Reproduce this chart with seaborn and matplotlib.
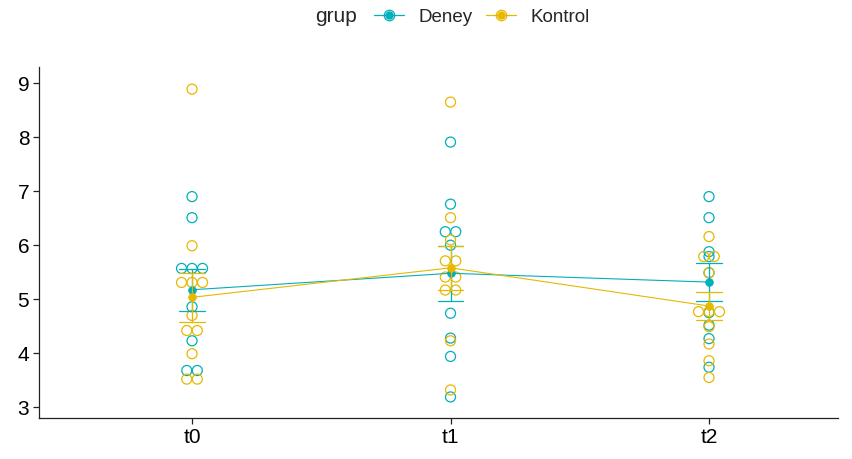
import numpy as np
import pandas as pd
import seaborn as sns
import matplotlib.pyplot as plt
from matplotlib.lines import Line2D
from matplotlib.legend_handler import HandlerTuple

# Measurement occasions and groups
times = ["t0", "t1", "t2"]
groups = ["Deney", "Kontrol"]
palette = {"Deney": "#00AFBB", "Kontrol": "#E7B800"}

# Individual scores per group and occasion
deney_t0 = [6.90, 6.51, 5.57, 5.57, 5.57, 4.86, 4.23, 3.68, 3.68]
deney_t1 = [7.91, 6.76, 6.25, 6.25, 6.00, 4.74, 4.28, 3.94, 3.19]
deney_t2 = [6.90, 6.51, 5.88, 5.79, 5.49, 4.75, 4.52, 4.27, 3.74]
kontrol_t0 = [8.89, 5.99, 5.31, 5.31, 5.31, 4.70, 4.42, 4.42, 3.99, 3.52, 3.52]
kontrol_t1 = [8.65, 6.51, 6.10, 5.71, 5.71, 5.41, 5.41, 5.17, 5.17, 4.23, 3.32]
kontrol_t2 = [6.16, 5.79, 5.79, 5.49, 4.77, 4.77, 4.77, 4.49, 4.17, 3.86, 3.55]

y_ticks = [3, 4, 5, 6, 7, 8, 9]

records = []
for grp, series in (("Deney", [deney_t0, deney_t1, deney_t2]),
                    ("Kontrol", [kontrol_t0, kontrol_t1, kontrol_t2])):
    for t, vals in zip(times, series):
        for v in vals:
            records.append((grp, t, v))
df = pd.DataFrame(records, columns=["grup", "time", "value"])

# Dot-plot style stacking: equal values within a group/occasion sit side by side, centred
dot_w = 0.0406
key = ["time", "grup", "value"]
df["k"] = df.groupby(key).cumcount()
df["n"] = df.groupby(key)["value"].transform("size")
df["xpos"] = (df["time"].map({t: i for i, t in enumerate(times)})
              + (df["k"] - (df["n"] - 1) / 2) * dot_w)

sns.set_style("white")
plt.rcParams["font.family"] = ["Liberation Sans", "DejaVu Sans"]

W, H = 852, 459
fig = plt.figure(figsize=(W / 100, H / 100), dpi=100)
ax = fig.add_axes([39 / W, 41 / H, (838 - 39) / W, (418 - 67) / H])

# Group means with standard-error bars, joined across occasions
sns.pointplot(data=df, x="time", y="value", hue="grup", order=times,
              hue_order=groups, palette=palette, errorbar="se", capsize=0.1,
              dodge=False, markers="o", markersize=5.5, linewidth=0.8,
              err_kws={"linewidth": 0.9}, legend=False, ax=ax)
for ln in ax.lines:
    ln.set_zorder(3)

# Raw observations as hollow dots
sns.scatterplot(data=df, x="xpos", y="value", hue="grup", hue_order=groups,
                palette=palette, s=52, linewidth=0.9, legend=False, ax=ax,
                zorder=2)
for coll in ax.collections:
    coll.set_edgecolors(coll.get_facecolors())
    coll.set_facecolors("none")

ax.set_xlim(-0.592, 2.499)
ax.set_ylim(2.8, 9.3)
ax.set_xticks(range(len(times)))
ax.set_xticklabels(times)
ax.set_yticks(y_ticks)
ax.set_xlabel("")
ax.set_ylabel("")

for side in ("top", "right"):
    ax.spines[side].set_visible(False)
for side in ("left", "bottom"):
    ax.spines[side].set_color("#222222")
    ax.spines[side].set_linewidth(0.9)
ax.tick_params(axis="both", which="major", length=4, width=0.9,
               color="#222222", labelsize=15, labelcolor="black",
               direction="out", left=True, bottom=True, pad=3)

# Legend across the top: line with mean dot, overlaid by the hollow observation dot
handles = []
for g in groups:
    c = palette[g]
    handles.append((Line2D([], [], color=c, lw=0.9, marker="o", ms=5),
                    Line2D([], [], ls="none", marker="o", ms=7.5,
                           mfc="none", mec=c, mew=0.9)))
fig.legend(handles=handles, labels=groups, ncol=2, loc="center",
           bbox_to_anchor=(482 / W, 1 - 17 / H), frameon=False,
           fontsize=13.5, handlelength=1.6, handletextpad=0.8,
           columnspacing=0.7,
           handler_map={tuple: HandlerTuple(ndivide=1)})
fig.text(357 / W, 1 - 17 / H, "grup", ha="right", va="center", fontsize=15)

fig.savefig("out.png", dpi=100)
